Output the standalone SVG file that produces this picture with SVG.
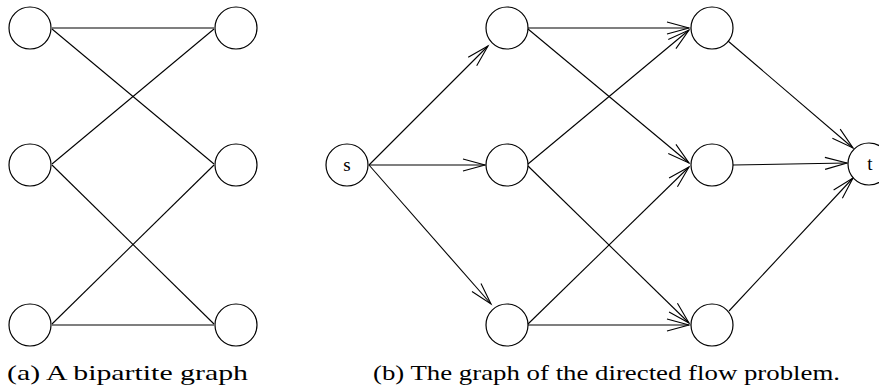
<svg xmlns="http://www.w3.org/2000/svg" width="879" height="387" viewBox="0 0 879 387">
<defs>
<style>
.n{fill:#fff;stroke:#000;stroke-width:1.2}
.e{stroke:#000;stroke-width:1.1;fill:none}
.a{stroke:#000;stroke-width:1.1;fill:none;marker-end:url(#ah)}
.lbl{font-family:"Liberation Serif","DejaVu Serif",serif;font-size:19px;fill:#000}
.cap{font-family:"Liberation Serif","DejaVu Serif",serif;font-size:21px;fill:#000}
</style>
<marker id="ah" markerUnits="userSpaceOnUse" markerWidth="26" markerHeight="14" refX="22" refY="6" orient="auto" overflow="visible">
<path d="M0,0 L22,6 L0,12" fill="none" stroke="#000" stroke-width="1.1"/>
</marker>
</defs>
<rect width="879" height="387" fill="#fff"/>
<g id="connectors">
<line class="e" x1="52" y1="28" x2="214" y2="28"/>
<line class="e" x1="52" y1="29" x2="214" y2="164"/>
<line class="e" x1="52" y1="164" x2="214" y2="29"/>
<line class="e" x1="52" y1="165" x2="214" y2="324"/>
<line class="e" x1="52" y1="324" x2="214" y2="165"/>
<line class="e" x1="52" y1="325" x2="214" y2="325"/>
<line class="a" x1="369" y1="165" x2="488" y2="46"/>
<line class="a" x1="369" y1="165" x2="485" y2="165"/>
<line class="a" x1="369" y1="165" x2="491" y2="304"/>
<line class="a" x1="528" y1="28" x2="689" y2="28"/>
<line class="a" x1="528" y1="29" x2="689" y2="163"/>
<line class="a" x1="528" y1="164" x2="689" y2="30"/>
<line class="a" x1="528" y1="166" x2="689" y2="323"/>
<line class="a" x1="528" y1="324" x2="689" y2="167"/>
<line class="a" x1="528" y1="325" x2="689" y2="325"/>
<line class="a" x1="728" y1="41" x2="853" y2="148"/>
<line class="a" x1="733" y1="165" x2="847" y2="163"/>
<line class="a" x1="729" y1="311" x2="853" y2="178"/>
</g>
<g id="a-l1"><circle class="n" cx="30" cy="28" r="21"/></g>
<g id="a-l2"><circle class="n" cx="30" cy="165" r="21"/></g>
<g id="a-l3"><circle class="n" cx="30" cy="325" r="21"/></g>
<g id="a-r1"><circle class="n" cx="236" cy="28" r="21"/></g>
<g id="a-r2"><circle class="n" cx="236" cy="165" r="21"/></g>
<g id="a-r3"><circle class="n" cx="236" cy="325" r="21"/></g>
<g id="s"><circle class="n" cx="347" cy="165" r="21"/><text class="lbl" x="347" y="171" text-anchor="middle">s</text></g>
<g id="b-c1-1"><circle class="n" cx="507" cy="28" r="21"/></g>
<g id="b-c1-2"><circle class="n" cx="507" cy="165" r="21"/></g>
<g id="b-c1-3"><circle class="n" cx="507" cy="325" r="21"/></g>
<g id="b-c2-1"><circle class="n" cx="712" cy="28" r="21"/></g>
<g id="b-c2-2"><circle class="n" cx="712" cy="165" r="21"/></g>
<g id="b-c2-3"><circle class="n" cx="712" cy="325" r="21"/></g>
<g id="t"><circle class="n" cx="869" cy="164" r="21"/><text class="lbl" x="870" y="170" text-anchor="middle">t</text></g>
<text class="cap" x="7" y="380" textLength="241" lengthAdjust="spacingAndGlyphs">(a)  A bipartite graph</text>
<text class="cap" x="373" y="380" textLength="467" lengthAdjust="spacingAndGlyphs">(b)  The graph of the directed flow problem.</text>
</svg>
